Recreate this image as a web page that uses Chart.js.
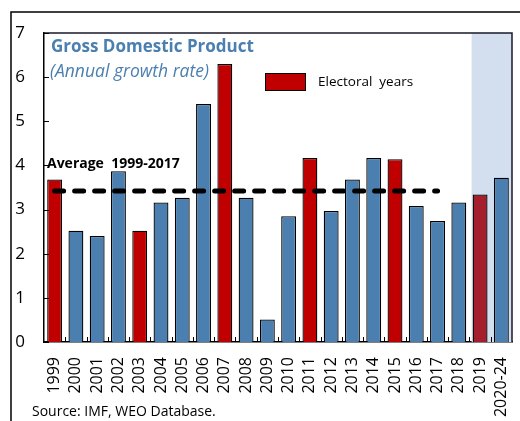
<!DOCTYPE html>
<html>
<head>
<meta charset="utf-8">
<script src="https://cdn.jsdelivr.net/npm/chart.js@4.4.1/dist/chart.umd.min.js"></script>
<style>
html,body{margin:0;padding:0;background:#fff;}
canvas{display:block;}
</style>
</head>
<body>
<canvas id="c" width="520" height="421"></canvas>
<script>
// ---- data ----
const categories = ["1999","2000","2001","2002","2003","2004","2005","2006","2007","2008","2009","2010","2011","2012","2013","2014","2015","2016","2017","2018","2019","2020-24"];
const gdpGrowth = [3.68,2.52,2.40,3.87,2.52,3.16,3.27,5.39,6.30,3.27,0.51,2.85,4.17,2.97,3.68,4.17,4.14,3.08,2.74,3.16,3.34,3.72];
const electoralYears = ["1999","2003","2007","2011","2015","2019"];
const projectionYears = ["2019","2020-24"];
const averageValue = 3.42;
const averageFrom = "1999";
const averageTo = "2017";
const yTicks = [0,1,2,3,4,5,6,7];

// ---- styles ----
const BLUE = "#4a7fb0";
const RED = "#c00000";
const RED_PROJ = "#a51e2e";
const SHADE = "#d3deee";
const TXT_BLUE = "#4a7fb0";
const FONT = "'Open Sans', 'Noto Sans', sans-serif";

const barColors = categories.map(c => {
  const el = electoralYears.includes(c);
  const pr = projectionYears.includes(c);
  if (el && pr) return RED_PROJ;
  if (el) return RED;
  return BLUE;
});
const iFrom = categories.indexOf(averageFrom), iTo = categories.indexOf(averageTo);
const avgLine = categories.map((c, i) => (i >= iFrom && i <= iTo) ? averageValue : null);

const decor = {
  id: 'decor',
  beforeDatasetsDraw(chart) {
    const {ctx, chartArea: a} = chart;
    const meta = chart.getDatasetMeta(1);
    const first = meta.data[categories.indexOf(projectionYears[0])];
    const x0 = first.x - first.width / 2 - 1;
    ctx.save();
    ctx.fillStyle = SHADE;
    ctx.fillRect(x0, a.top, a.right - x0, a.bottom - a.top);
    ctx.restore();
  },
  afterDraw(chart) {
    const {ctx, chartArea: a, scales: {x, y}} = chart;
    ctx.save();
    // outer frame
    ctx.strokeStyle = '#000';
    ctx.lineWidth = 1.5;
    ctx.beginPath();
    ctx.moveTo(520, 12); ctx.lineTo(11, 12); ctx.lineTo(11, 421);
    ctx.stroke();
    // plot top & right border
    ctx.lineWidth = 1.5;
    ctx.strokeStyle = '#1a1a2a';
    ctx.beginPath();
    ctx.moveTo(a.left, a.top); ctx.lineTo(a.right, a.top); ctx.lineTo(a.right, a.bottom);
    ctx.stroke();
    // inward ticks
    ctx.strokeStyle = '#000';
    ctx.lineWidth = 1;
    ctx.beginPath();
    yTicks.forEach(v => {
      const py = Math.round(y.getPixelForValue(v)) + 0.5;
      ctx.moveTo(a.left, py); ctx.lineTo(a.left + 5, py);
    });
    for (let i = 1; i < categories.length; i++) {
      const px = Math.round((x.getPixelForValue(i - 1) + x.getPixelForValue(i)) / 2) + 0.5;
      ctx.moveTo(px, a.bottom); ctx.lineTo(px, a.bottom - 5);
    }
    ctx.stroke();
    // texts
    ctx.textBaseline = 'middle';
    ctx.fillStyle = TXT_BLUE;
    ctx.font = "bold 17px 'Open Sans', sans-serif";
    ctx.fillText("Gross Domestic Product", a.left + 7, 47);
    ctx.font = "italic 17.5px 'Open Sans', sans-serif";
    ctx.fillText("(Annual growth rate)", a.left + 6, 72);
    // legend
    ctx.fillStyle = RED;
    ctx.fillRect(265, 73, 40, 17);
    ctx.strokeStyle = '#000';
    ctx.lineWidth = 1;
    ctx.strokeRect(265.5, 73.5, 40, 17);
    ctx.fillStyle = '#000';
    ctx.font = "13.5px 'Open Sans', sans-serif";
    ctx.fillText("Electoral  years", 318, 82);
    // average label
    ctx.font = "bold 14px 'Open Sans', sans-serif";
    ctx.fillText("Average  1999-2017", a.left + 3, y.getPixelForValue(averageValue) - 27);
    // source
    ctx.font = "14px 'Open Sans', sans-serif";
    ctx.fillText("Source: IMF, WEO Database.", 32, 412);
    ctx.restore();
  }
};

new Chart(document.getElementById('c'), {
  data: {
    labels: categories,
    datasets: [
      {
        type: 'line',
        data: avgLine,
        borderColor: '#000',
        borderWidth: 5,
        borderDash: [9, 11],
        borderCapStyle: 'round',
        pointRadius: 0,
        fill: false,
        spanGaps: false,
        order: 0
      },
      {
        type: 'bar',
        data: gdpGrowth,
        backgroundColor: barColors,
        borderColor: '#000',
        borderWidth: 1.3,
        barPercentage: 0.7,
        categoryPercentage: 1.0,
        order: 1
      }
    ]
  },
  options: {
    responsive: false,
    animation: false,
    devicePixelRatio: 1,
    layout: {padding: {top: 33, right: 8, left: 0, bottom: 0}},
    plugins: {legend: {display: false}, tooltip: {enabled: false}, title: {display: false}},
    scales: {
      x: {
        type: 'category',
        offset: true,
        grid: {display: false, drawTicks: false},
        border: {display: true, color: '#000', width: 1.5},
        ticks: {
          autoSkip: false, minRotation: 90, maxRotation: 90,
          color: '#000', padding: 15,
          font: {family: FONT, size: 16}
        },
        afterFit(s) { s.height = 79; s.paddingLeft = 0; s.paddingRight = 0; }
      },
      y: {
        min: 0, max: 7,
        grid: {display: false, drawTicks: false},
        border: {display: true, color: '#000', width: 1.5},
        afterBuildTicks(s) { s.ticks = yTicks.map(v => ({value: v})); },
        ticks: {
          color: '#000', padding: 19,
          font: {family: FONT, size: 17}
        },
        afterFit(s) { s.width = 44; s.paddingTop = 0; s.paddingBottom = 0; }
      }
    }
  },
  plugins: [decor]
});
</script>
</body>
</html>
